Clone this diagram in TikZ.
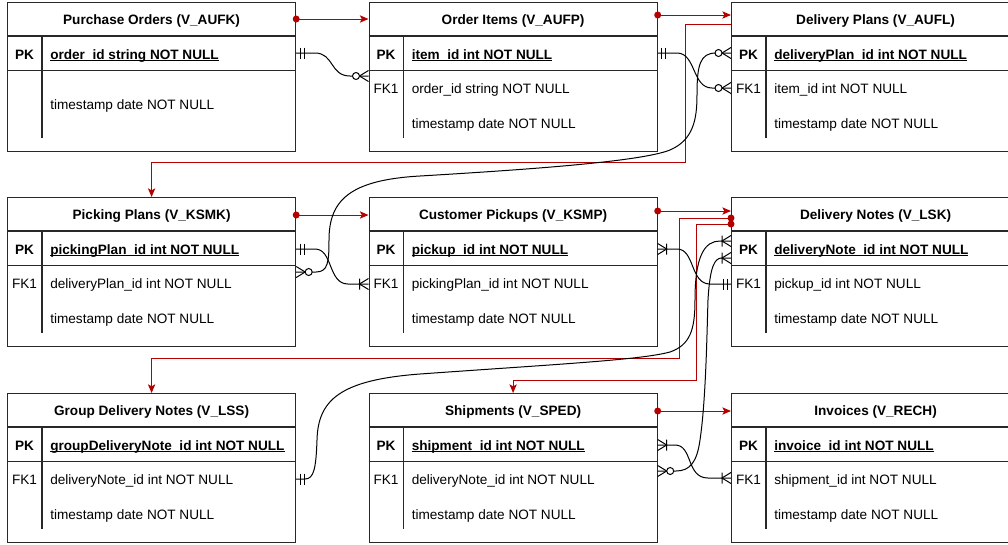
\documentclass[tikz,border=0pt]{standalone}
\usepackage{fontspec}
\setmainfont{Liberation Sans}
\usetikzlibrary{arrows.meta, calc, positioning}
\definecolor{flowred}{RGB}{180,0,0}
\definecolor{framegray}{RGB}{40,40,40}

% underlined primary key text
\newcommand{\pkline}[1]{\sbox0{#1}\rlap{\rule[-1.6pt]{\wd0}{0.8pt}}\usebox0}

\tikzset{
  tablebox/.style={draw=framegray, line width=0.9pt, fill=white, anchor=north west,
    minimum width=216pt, minimum height=111.75pt, inner sep=0pt},
  tableline/.style={draw=framegray, line width=0.9pt},
  titletext/.style={anchor=base, inner sep=0pt, font=\bfseries},
  keytext/.style={anchor=base, inner sep=0pt},
  fieldtext/.style={anchor=base west, inner sep=0pt},
  erline/.style={draw=black, line width=0.75pt},
  flow/.style={draw=flowred, line width=0.75pt, ->},
  mandone/.pic={\draw[erline] (4,-5.5) -- (4,5.5) (8,-5.5) -- (8,5.5);},
  onemany/.pic={\draw[erline] (0,-5.5) -- (9,0) -- (0,5.5) (9,-5.5) -- (9,5.5);},
  zeromany/.pic={\draw[erline] (0,-5.5) -- (9,0) -- (0,5.5);
    \draw[erline, fill=white] (12.5,0) circle (3.5);}
}

% #1 name, #2 top left corner, #3 title, #4 primary key, #5 rows key/field/offset
\newcommand{\erdtable}[5]{%
  \node[tablebox] (#1) at (#2) {};
  \draw[tableline] ($(#1.north west)+(0,34)$) -- ($(#1.north east)+(0,34)$);
  \draw[tableline] ($(#1.north west)+(0,68.5)$) -- ($(#1.north east)+(0,68.5)$);
  \draw[tableline] ($(#1.north west)+(35,34)$) -- ($(#1.north west)+(35,136)$);
  \node[titletext] (#1-title) at ($(#1.north)+(0,22.5)$) {#3};
  \node[keytext, font=\bfseries] (#1-pk) at ($(#1.north west)+(17.5,57)$) {PK};
  \node[fieldtext, font=\bfseries] (#1-pkfield) at ($(#1.north west)+(43,57)$) {\pkline{#4}};
  \foreach \k/\f/\o [count=\i] in {#5} {
    \node[keytext] (#1-key\i) at ($(#1.north west)+(17.5,\o+5.5)$) {\k};
    \node[fieldtext] (#1-field\i) at ($(#1.north west)+(43,\o+5.5)$) {\f};
  }
}

\begin{document}
\fontsize{10.2}{12}\selectfont
\begin{tikzpicture}[x=0.75pt, y=-0.75pt, >={Stealth[length=6.5pt, width=5.5pt, inset=1.5pt]}]
  \useasboundingbox (0,0) rectangle (1008,544);
  \clip (0,0) rectangle (1008,544);

  % Tables
  \erdtable{po}{7,2}{Purchase Orders (V\_AUFK)}{order\_id string NOT NULL}
    {/timestamp date NOT NULL/101.5}
  \erdtable{oi}{368.5,2}{Order Items (V\_AUFP)}{item\_id int NOT NULL}
    {FK1/order\_id string NOT NULL/86, /timestamp date NOT NULL/121}
  \erdtable{dp}{731,2}{Delivery Plans (V\_AUFL)}{deliveryPlan\_id int NOT NULL}
    {FK1/item\_id int NOT NULL/86, /timestamp date NOT NULL/121}
  \erdtable{pp}{7,197}{Picking Plans (V\_KSMK)}{pickingPlan\_id int NOT NULL}
    {FK1/deliveryPlan\_id int NOT NULL/86, /timestamp date NOT NULL/121}
  \erdtable{cp}{368.5,197}{Customer Pickups (V\_KSMP)}{pickup\_id int NOT NULL}
    {FK1/pickingPlan\_id int NOT NULL/86, /timestamp date NOT NULL/121}
  \erdtable{dn}{731,197}{Delivery Notes (V\_LSK)}{deliveryNote\_id int NOT NULL}
    {FK1/pickup\_id int NOT NULL/86, /timestamp date NOT NULL/121}
  \erdtable{gdn}{7,393}{Group Delivery Notes (V\_LSS)}{groupDeliveryNote\_id int NOT NULL}
    {FK1/deliveryNote\_id int NOT NULL/86, /timestamp date NOT NULL/121}
  \erdtable{sh}{368.5,393}{Shipments (V\_SPED)}{shipment\_id int NOT NULL}
    {FK1/deliveryNote\_id int NOT NULL/86, /timestamp date NOT NULL/121}
  \erdtable{inv}{731,393}{Invoices (V\_RECH)}{invoice\_id int NOT NULL}
    {FK1/shipment\_id int NOT NULL/86, /timestamp date NOT NULL/121}

  % Connection points
  \coordinate (po-out) at ($(po.north east)+(0,17)$);
  \coordinate (po-pk-e) at ($(po.north east)+(0,51)$);
  \coordinate (oi-in) at ($(oi.north west)+(0,17)$);
  \coordinate (oi-out) at ($(oi.north east)+(0,13)$);
  \coordinate (oi-pk-e) at ($(oi.north east)+(0,51)$);
  \coordinate (oi-fk-w) at ($(oi.north west)+(0,74)$);
  \coordinate (dp-in) at ($(dp.north west)+(0,13)$);
  \coordinate (dp-out) at ($(dp.north west)+(0,22)$);
  \coordinate (dp-pk-w) at ($(dp.north west)+(0,51)$);
  \coordinate (dp-fk-w) at ($(dp.north west)+(0,86)$);
  \coordinate (pp-out) at ($(pp.north east)+(0,18)$);
  \coordinate (pp-pk-e) at ($(pp.north east)+(0,52)$);
  \coordinate (pp-fk-e) at ($(pp.north east)+(0,75)$);
  \coordinate (cp-in) at ($(cp.north west)+(0,18)$);
  \coordinate (cp-out) at ($(cp.north east)+(0,14)$);
  \coordinate (cp-pk-e) at ($(cp.north east)+(0,52)$);
  \coordinate (cp-fk-w) at ($(cp.north west)+(0,87)$);
  \coordinate (dn-in) at ($(dn.north west)+(0,14)$);
  \coordinate (dn-out1) at ($(dn.north west)+(0,21)$);
  \coordinate (dn-out2) at ($(dn.north west)+(0,27)$);
  \coordinate (dn-pk-w1) at ($(dn.north west)+(0,44)$);
  \coordinate (dn-pk-w2) at ($(dn.north west)+(0,61)$);
  \coordinate (dn-fk-w) at ($(dn.north west)+(0,87)$);
  \coordinate (gdn-fk-e) at ($(gdn.north east)+(0,86)$);
  \coordinate (sh-out) at ($(sh.north east)+(0,18)$);
  \coordinate (sh-pk-e) at ($(sh.north east)+(0,52)$);
  \coordinate (sh-fk-e) at ($(sh.north east)+(0,78)$);
  \coordinate (inv-in) at ($(inv.north west)+(0,18)$);
  \coordinate (inv-fk-w) at ($(inv.north west)+(0,85)$);

  % Flow arrows
  \draw[flow] (po-out) -- (oi-in);
  \draw[flow] (oi-out) -- (dp-in);
  \draw[flow] (dp-out) -| (685,162) -| (pp.north);
  \draw[flow] (pp-out) -- (cp-in);
  \draw[flow] (cp-out) -- (dn-in);
  \draw[flow] (dn-out1) -| (679,358) -| (gdn.north);
  \draw[flow] (dn-out2) -| (696,380) -| (sh.north);
  \draw[flow] (sh-out) -- (inv-in);
  \foreach \p in {po-out, oi-out, pp-out, cp-out, dn-out1, dn-out2, sh-out}
    \fill[flowred] (\p) circle (3.5);

  % Relations
  \draw[erline] (po-pk-e) -- (315,53) .. controls (334,53) and (330,76) .. (350,76) -- (oi-fk-w);
  \draw[erline] (oi-pk-e) -- (677,53) .. controls (696,53) and (692,88) .. (712,88) -- (dp-fk-w);
  \draw[erline] (pp-fk-e) -- (316,272) .. controls (328,272) and (329,262) .. (329,240)
    .. controls (329,200) and (350,180) .. (420,176) .. controls (520,170) and (640,162) .. (670,150)
    .. controls (693,140) and (697,120) .. (697,95) .. controls (697,65) and (700,53) .. (716,53) -- (dp-pk-w);
  \draw[erline] (pp-pk-e) -- (315,249) .. controls (333,249) and (328,284) .. (348,284) -- (cp-fk-w);
  \draw[erline] (cp-pk-e) -- (677,249) .. controls (695,249) and (690,284) .. (710,284) -- (dn-fk-w);
  \draw[erline] (gdn-fk-e) -- (305,479) .. controls (314,479) and (316,468) .. (317,440)
    .. controls (318,400) and (340,380) .. (420,374) .. controls (560,364) and (640,360) .. (670,352)
    .. controls (690,345) and (695,330) .. (695,300) .. controls (695,255) and (705,241) .. (720,241) -- (dn-pk-w1);
  \draw[erline] (sh-fk-e) -- (676,471) .. controls (690,471) and (697,462) .. (700,440)
    .. controls (706,400) and (707,330) .. (708,300) .. controls (710,265) and (715,258) .. (722,258) -- (dn-pk-w2);
  \draw[erline] (sh-pk-e) -- (675,445) .. controls (693,445) and (686,478) .. (708,478) -- (inv-fk-w);

  % Cardinalities
  \pic at (po-pk-e) {mandone};
  \pic[xscale=-1] at (oi-fk-w) {zeromany};
  \pic at (oi-pk-e) {mandone};
  \pic[xscale=-1] at (dp-fk-w) {zeromany};
  \pic at (pp-fk-e) {zeromany};
  \pic[xscale=-1] at (dp-pk-w) {zeromany};
  \pic at (pp-pk-e) {mandone};
  \pic[xscale=-1] at (cp-fk-w) {onemany};
  \pic at (cp-pk-e) {onemany};
  \pic[xscale=-1] at (dn-fk-w) {mandone};
  \pic at (gdn-fk-e) {mandone};
  \pic[xscale=-1] at (dn-pk-w1) {onemany};
  \pic at (sh-fk-e) {zeromany};
  \pic[xscale=-1] at (dn-pk-w2) {onemany};
  \pic at (sh-pk-e) {onemany};
  \pic[xscale=-1] at (inv-fk-w) {onemany};
\end{tikzpicture}
\end{document}
